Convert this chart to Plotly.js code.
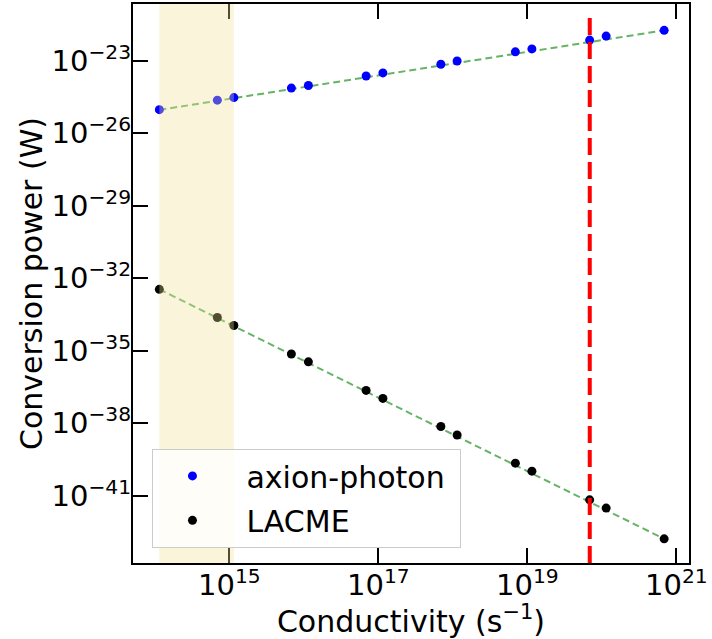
<!DOCTYPE html>
<html>
<head>
<meta charset="utf-8">
<script src="https://cdn.plot.ly/plotly-3.0.1.min.js"></script>
<style>html,body{margin:0;padding:0;background:#fff;}#chart{width:712px;height:639px;}</style>
</head>
<body>
<div id="chart"></div>
<script>
// Conductivity values (s^-1)
const conductivity = [1.15e14, 6.9e14, 1.15e15, 6.8e15, 1.15e16, 6.85e16, 1.15e17, 6.9e17, 1.14e18, 6.9e18, 1.15e19, 6.85e19, 1.14e20, 6.85e20];
// Conversion power (W)
const axionPhoton = [9.5e-26, 2.35e-25, 3.0e-25, 7.4e-25, 9.5e-25, 2.35e-24, 3.15e-24, 7.2e-24, 9.8e-24, 2.35e-23, 3.1e-23, 7.2e-23, 1.05e-22, 1.82e-22];
const lacme = [3.5e-33, 2.4e-34, 1.12e-34, 7.4e-36, 3.5e-36, 2.3e-37, 1.07e-37, 7.4e-39, 3.3e-39, 2.25e-40, 1.05e-40, 6.8e-42, 3.1e-42, 1.66e-43];
// Fit-line endpoints
const fitX = [1.15e14, 6.85e20];
const fitAxion = [9.3e-26, 1.82e-22];
const fitLacme = [3.5e-33, 1.66e-43];
// Highlighted band and vertical marker line
const bandX = [1.15e14, 1.15e15];
const markerLineX = 6.87e19;
// Tick labels
const xTickVals = [1e15, 1e17, 1e19, 1e21];
const xTickText = ['10<sup>15</sup>', '10<sup>17</sup>', '10<sup>19</sup>', '10<sup>21</sup>'];
const yTickVals = [1e-23, 1e-26, 1e-29, 1e-32, 1e-35, 1e-38, 1e-41];
const yTickText = ['10<sup>−23</sup>', '10<sup>−26</sup>', '10<sup>−29</sup>', '10<sup>−32</sup>', '10<sup>−35</sup>', '10<sup>−38</sup>', '10<sup>−41</sup>'];

const FONT = 'DejaVu Sans';
const FIT_LINE = {color: 'rgba(0,128,0,0.6)', width: 2, dash: '7px,4px'};

const traces = [
  {x: fitX, y: fitAxion, mode: 'lines', line: FIT_LINE, showlegend: false, hoverinfo: 'skip'},
  {x: fitX, y: fitLacme, mode: 'lines', line: FIT_LINE, showlegend: false, hoverinfo: 'skip'},
  {x: conductivity, y: axionPhoton, mode: 'markers', name: '\u2002axion-photon\u2004', legendgroup: 'a', marker: {color: '#0000ff', size: 9}},
  {x: conductivity, y: lacme, mode: 'markers', name: '\u2002LACME', legendgroup: 'b', marker: {color: '#000000', size: 9}}
];

const layout = {
  width: 712, height: 639,
  margin: {l: 133, r: 23, t: 4, b: 76, pad: 0},
  paper_bgcolor: '#ffffff', plot_bgcolor: '#ffffff',
  font: {family: FONT, size: 30, color: '#000'},
  showlegend: true,
  legend: {
    x: 0.035, y: 0.027, xanchor: 'left', yanchor: 'bottom',
    bgcolor: 'rgba(255,255,255,0.8)', bordercolor: '#cccccc', borderwidth: 1,
    itemwidth: 68, tracegroupgap: 2.4,
    font: {family: FONT, size: 30, color: '#000'}
  },
  xaxis: {
    type: 'log', range: [13.707, 21.169],
    tickmode: 'array', tickvals: xTickVals, ticktext: xTickText,
    ticks: 'inside', ticklen: 15, tickwidth: 2, tickcolor: '#000', ticklabelstandoff: -5,
    showline: true, linewidth: 2, linecolor: '#000', mirror: 'allticks',
    showgrid: false, zeroline: false,
    tickfont: {family: FONT, size: 29, color: '#000'},
    title: {text: 'Conductivity (s<sup>−1</sup>)', font: {family: FONT, size: 30, color: '#000'}, standoff: 9}
  },
  yaxis: {
    type: 'log', range: [-43.78, -20.65],
    tickmode: 'array', tickvals: yTickVals, ticktext: yTickText,
    ticks: 'inside', ticklen: 15, tickwidth: 2, tickcolor: '#000', ticklabelstandoff: -6,
    showline: true, linewidth: 2, linecolor: '#000', mirror: true,
    showgrid: false, zeroline: false,
    tickfont: {family: FONT, size: 29, color: '#000'},
    title: {text: 'Conversion power (W)', font: {family: FONT, size: 30, color: '#000'}, standoff: 0}
  },
  shapes: [
    {type: 'rect', layer: 'above', xref: 'x', yref: 'paper', x0: bandX[0], x1: bandX[1], y0: 0, y1: 1,
     fillcolor: 'rgba(237,222,148,0.34)', line: {width: 0}},
    {type: 'line', layer: 'above', xref: 'x', yref: 'paper', x0: markerLineX, x1: markerLineX, y0: 0, y1: 0.987,
     line: {color: '#ff0000', width: 4, dash: '17px,7px'}}
  ]
};

Plotly.newPlot('chart', traces, layout, {displayModeBar: false, staticPlot: true});
</script>
</body>
</html>
